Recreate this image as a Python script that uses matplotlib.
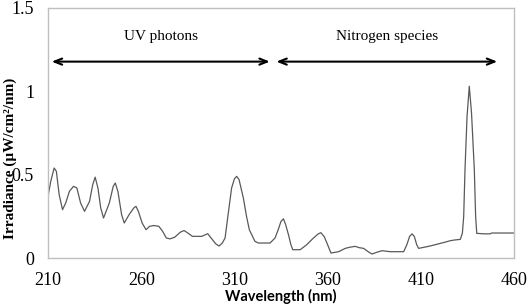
import matplotlib
matplotlib.use('Agg')
import matplotlib.pyplot as plt

# Spectrum
wavelength = [210, 211.5, 213.3, 214.5, 216, 217.8, 219.5, 221.5, 223.7, 225.5,
              227.5, 229.6, 232.3, 234, 235.3, 236.8, 238.3, 239.8, 242.9, 245,
              246.1, 247.5, 249.5, 250.9, 253.5, 256, 257.2, 258.5, 260.5, 262.6,
              264.5, 266.7, 269.5, 271.5, 273.5, 275.5, 278, 281, 283, 285,
              287.5, 292.5, 295.7, 297.5, 300, 301.8, 303.5, 305, 306.5, 308.5,
              310, 311.2, 312.5, 314.8, 316.5, 318, 319.3, 321, 322.9, 329.1,
              331.8, 333.5, 335, 336.3, 337.5, 339, 340.3, 341.3, 345.3, 348.8,
              352.4, 355, 356.4, 358.2, 360, 361.8, 365.9, 369.5, 372, 374.8,
              377, 379.3, 381.5, 383.8, 386.5, 389.2, 393.6, 400.8, 402.5, 404,
              405.3, 406.5, 407.8, 408.8, 413.3, 416, 420.5, 423, 425.8, 428,
              431.2, 432.3, 433, 433.7, 434.8, 436, 437.2, 438.7, 439.4, 440,
              444, 447.1, 448, 460]
irradiance = [0.37, 0.46, 0.54, 0.52, 0.38, 0.29, 0.33, 0.40, 0.43, 0.42,
              0.33, 0.28, 0.34, 0.44, 0.485, 0.42, 0.30, 0.24, 0.33, 0.43,
              0.45, 0.40, 0.26, 0.21, 0.26, 0.30, 0.31, 0.28, 0.21, 0.17,
              0.19, 0.195, 0.19, 0.16, 0.12, 0.115, 0.125, 0.155, 0.165, 0.15,
              0.13, 0.13, 0.146, 0.12, 0.085, 0.072, 0.09, 0.12, 0.25, 0.42,
              0.475, 0.49, 0.47, 0.36, 0.25, 0.17, 0.14, 0.10, 0.09, 0.09,
              0.12, 0.17, 0.22, 0.235, 0.20, 0.14, 0.08, 0.05, 0.05, 0.08,
              0.12, 0.145, 0.152, 0.128, 0.08, 0.03, 0.038, 0.058, 0.065, 0.07,
              0.062, 0.058, 0.04, 0.024, 0.035, 0.044, 0.038, 0.038, 0.08, 0.13,
              0.145, 0.13, 0.08, 0.058, 0.068, 0.075, 0.088, 0.095, 0.104, 0.108,
              0.112, 0.15, 0.25, 0.53, 0.85, 1.03, 0.87, 0.53, 0.25, 0.148,
              0.145, 0.145, 0.15, 0.15]

# Region arrows: (label, start nm, end nm)
regions = [('UV photons', 212, 329), ('Nitrogen species', 332.5, 451)]
arrow_level = 1.178
label_level = 1.33

xticks = [210, 260, 310, 360, 410, 460]
yticks = [0, 0.5, 1, 1.5]
ytick_labels = ['0', '0.5', '1', '1.5']

fig = plt.figure(figsize=(5.29, 3.05), dpi=100)
ax = fig.add_axes([0.0907, 0.154, 0.881, 0.820])

ax.plot(wavelength, irradiance, color='#595959', lw=0.9)

for label, x0, x1 in regions:
    ax.annotate('', xy=(x1, arrow_level), xytext=(x0, arrow_level),
                arrowprops=dict(arrowstyle='<->,head_length=0.55,head_width=0.22',
                                color='black', lw=1.5, shrinkA=0, shrinkB=0))
    ax.text((x0 + x1) / 2, label_level, label, ha='center', va='center',
            family='Liberation Serif', fontsize=11)

ax.set_xlim(210, 460)
ax.set_ylim(0, 1.5)
ax.set_xticks(xticks)
ax.set_yticks(yticks)
ax.set_yticklabels(ytick_labels)
ax.tick_params(length=0, labelsize=13, pad=10)
for lab in ax.get_xticklabels() + ax.get_yticklabels():
    lab.set_family('Liberation Serif')

for s in ax.spines.values():
    s.set_color('#bfbfbf')
    s.set_linewidth(1.0)

ax.set_xlabel('Wavelength (nm)', family='Lato', fontweight='bold',
              fontsize=10.5, labelpad=0)
ax.set_ylabel('Irradiance (µW/cm²/nm)', family='Liberation Serif',
              fontweight='bold', fontsize=11)
ax.yaxis.set_label_coords(-0.066, 0.40)

fig.savefig('out.png', dpi=100)
